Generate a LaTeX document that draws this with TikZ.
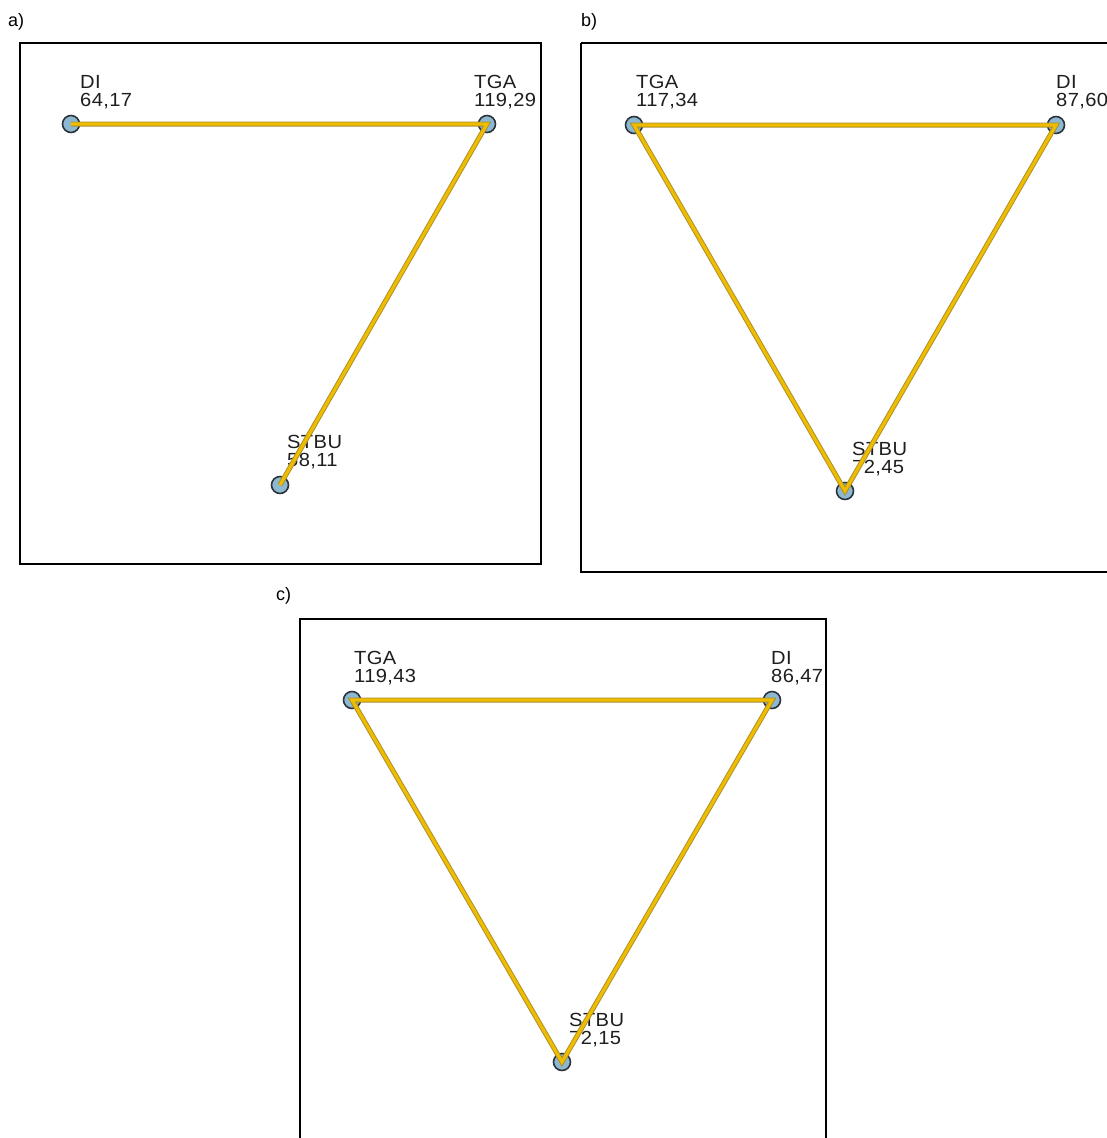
\documentclass[tikz,border=0pt]{standalone}
\usepackage{fontspec}
\setmainfont{Liberation Sans}
\newfontfamily\lblfont[FakeStretch=1.06,LetterSpace=2]{Liberation Sans}
\definecolor{nodefill}{RGB}{140,184,210}
\definecolor{nodeline}{RGB}{45,52,60}
\definecolor{edgegold}{RGB}{238,188,0}
\definecolor{edgedark}{RGB}{170,140,40}
\definecolor{txt}{RGB}{30,30,30}
\tikzset{
  vert/.style={circle,draw=nodeline,line width=1.6pt,fill=nodefill,minimum size=17pt,inner sep=0},
  vlabel/.style={anchor=south west,inner sep=0,align=left,text=txt,font=\lblfont\fontsize{19}{18.5}\selectfont},
  plabel/.style={anchor=north west,inner sep=0,text=black,font=\fontsize{18}{18}\selectfont},
  panelbox/.style={draw=black,line width=1.4pt},
  edgeunder/.style={draw=edgedark,line width=5pt},
  edgetop/.style={draw=edgegold,line width=3.2pt}
}
\begin{document}
\begin{tikzpicture}[x=1pt,y=-1pt]
\useasboundingbox (0,0) rectangle (1107,1138);
% panel boxes
\draw[panelbox] (20,43) rectangle (541,564);
\draw[panelbox] (581,43) -- (1112,43) (581,43) -- (581,572) -- (1112,572);
\draw[panelbox] (300,1145) -- (300,619) -- (826,619) -- (826,1145);
% panel labels
\node[plabel] (pa) at (8,13) {a)};
\node[plabel] (pb) at (581,13) {b)};
\node[plabel] (pc) at (276,587) {c)};
% panel a
\node[vert] (aDI) at (71,124) {};
\node[vert] (aTGA) at (487,124) {};
\node[vert] (aSTBU) at (280,485) {};
\node[vlabel] (laDI) at (80,109.5) {DI\\64,17};
\node[vlabel] (laTGA) at (474,109.5) {TGA\\119,29};
\node[vlabel] (laSTBU) at (287,469.5) {STBU\\58,11};
\draw[edgeunder] (aDI.center) -- (aTGA.center) -- (aSTBU.center);
\draw[edgetop] (aDI.center) -- (aTGA.center) -- (aSTBU.center);
% panel b
\node[vert] (bTGA) at (634,125) {};
\node[vert] (bDI) at (1056,125) {};
\node[vert] (bSTBU) at (845,491) {};
\node[vlabel] (lbTGA) at (636,109.5) {TGA\\117,34};
\node[vlabel] (lbDI) at (1056,109.5) {DI\\87,60};
\node[vlabel] (lbSTBU) at (852,476.5) {STBU\\72,45};
\draw[edgeunder] (bTGA.center) -- (bDI.center) -- (bSTBU.center) -- cycle;
\draw[edgetop] (bTGA.center) -- (bDI.center) -- (bSTBU.center) -- cycle;
% panel c
\node[vert] (cTGA) at (352,700) {};
\node[vert] (cDI) at (772,700) {};
\node[vert] (cSTBU) at (562,1062) {};
\node[vlabel] (lcTGA) at (354,685.5) {TGA\\119,43};
\node[vlabel] (lcDI) at (771,685.5) {DI\\86,47};
\node[vlabel] (lcSTBU) at (569,1047.5) {STBU\\72,15};
\draw[edgeunder] (cTGA.center) -- (cDI.center) -- (cSTBU.center) -- cycle;
\draw[edgetop] (cTGA.center) -- (cDI.center) -- (cSTBU.center) -- cycle;
\end{tikzpicture}
\end{document}
